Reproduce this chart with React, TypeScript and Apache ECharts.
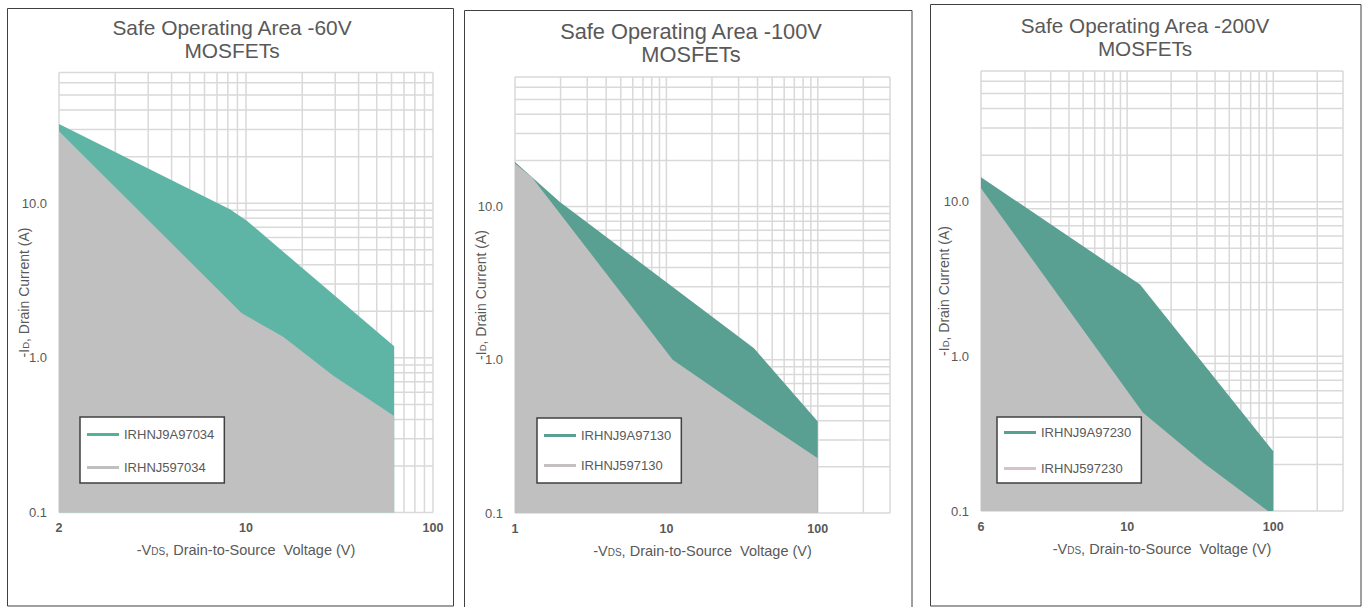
import React, { useEffect, useRef } from "react";
import * as echarts from "echarts";

// ---------- data ----------
const titles = ["Safe Operating Area -60V\nMOSFETs", "Safe Operating Area -100V\nMOSFETs", "Safe Operating Area -200V\nMOSFETs"];

// tick labels shown at the decade ticks (1, 10, 100) of each x axis
const xTickLabels60 = ["2", "10", "100"];
const xTickLabels100 = ["1", "10", "100"];
const xTickLabels200 = ["6", "10", "100"];
const yTickLabels = ["0.1", "1.0", "10.0"];

const xMax = [100, 300, 300];
const yMin = 0.1;
const yMax = 70;

// -60V
const names60 = ["IRHNJ9A97034", "IRHNJ597034"];
const greenV60 = [1, 8.2, 10.1, 62];
const greenI60 = [32.5, 9.15, 7.7, 1.19];
const grayV60 = [1, 9.5, 15.8, 29.2, 62];
const grayI60 = [29.2, 1.94, 1.37, 0.77, 0.42];

// -100V
const names100 = ["IRHNJ9A97130", "IRHNJ597130"];
const greenV100 = [1, 1.98, 37.9, 100];
const greenI100 = [19.5, 10.7, 1.19, 0.396];
const grayV100 = [1, 1.29, 11.0, 33.4, 100];
const grayI100 = [19, 15.6, 1.0, 0.47, 0.228];

// -200V
const names200 = ["IRHNJ9A97230", "IRHNJ597230"];
const greenV200 = [1, 12.25, 100];
const greenI200 = [14.4, 2.91, 0.243];
const grayV200 = [1, 12.8, 33.2, 92];
const grayI200 = [12.2, 0.434, 0.205, 0.1];

// log grid lines
const xGrid100 = [1, 2, 3, 4, 5, 6, 7, 8, 9, 10, 20, 30, 40, 50, 60, 70, 80, 90, 100];
const xGrid300 = [...xGrid100, 200, 300];
const yGrid = [0.1, 0.2, 0.3, 0.4, 0.5, 0.6, 0.7, 0.8, 0.9, 1, 2, 3, 4, 5, 6, 7, 8, 9, 10, 20, 30, 40, 50, 60, 70];

// ---------- styling / layout ----------
const FONT = '"Liberation Sans", Arial, sans-serif';
const TXT = "#595959";
const GRID_COLOR = "#d9d9d9";
const GRAY = "#c0c0c0";
const areaColors = ["#5eb5a5", "#5aa092", "#5aa092"];
const legendColors = [
  ["#52b39a", "#c0c0c0"],
  ["#5aa092", "#c4c0c2"],
  ["#5aa092", "#d6c2c7"],
];

const grids = [
  { left: 59, top: 72.5, width: 374, height: 440 },
  { left: 515, top: 77, width: 375, height: 436 },
  { left: 981, top: 71, width: 362, height: 440 },
];
const titlePos = [
  { cx: 232, top: 16, size: 20.9 },
  { cx: 691, top: 20, size: 21.8 },
  { cx: 1145, top: 13.5, size: 20.7 },
];
const legendPos = [
  { left: 80, top: 417, pad: [11, 10, 9, 7], gap: 20 },
  { left: 537, top: 418, pad: [11, 10, 11, 7], gap: 17 },
  { left: 997, top: 417, pad: [9, 10, 8, 7], gap: 23 },
];
const yNameGap = [28, 27, 30];
const xNameGap = [29.5, 30, 30];

const panels = [
  { names: names60, xl: xTickLabels60, gv: greenV60, gi: greenI60, rv: grayV60, ri: grayI60, xg: xGrid100 },
  { names: names100, xl: xTickLabels100, gv: greenV100, gi: greenI100, rv: grayV100, ri: grayI100, xg: xGrid300 },
  { names: names200, xl: xTickLabels200, gv: greenV200, gi: greenI200, rv: grayV200, ri: grayI200, xg: xGrid300 },
];

function decadeLabel(v: number, labels: string[], offset: number) {
  const l = Math.log10(v);
  const e = Math.round(l);
  if (Math.abs(l - e) > 1e-6) return "";
  const s = labels[e + offset];
  return s === undefined ? "" : s;
}

const xNameRich = {
  a: { fontFamily: FONT, fontSize: 14.5, color: TXT },
  s: { fontFamily: FONT, fontSize: 10, color: TXT, padding: [3, 0, 0, 0] },
};
const yNameRich = {
  a: { fontFamily: FONT, fontSize: 14, color: TXT },
  s: { fontFamily: FONT, fontSize: 9.5, color: TXT, padding: [3, 0, 0, 0] },
};

function buildOption() {
  const xAxis: any[] = [];
  const yAxis: any[] = [];
  const grid: any[] = [];
  const series: any[] = [];
  const legend: any[] = [];
  const title: any[] = [];

  panels.forEach((p, i) => {
    grid.push({ ...grids[i], containLabel: false });
    title.push({
      text: titles[i],
      left: titlePos[i].cx,
      top: titlePos[i].top,
      textAlign: "center",
      padding: 0,
      textStyle: { fontFamily: FONT, fontSize: titlePos[i].size, fontWeight: "normal", color: TXT, lineHeight: 23 },
    });
    xAxis.push({
      type: "log",
      logBase: 10,
      gridIndex: i,
      min: 1,
      max: xMax[i],
      axisLine: { show: false },
      axisTick: { show: false },
      splitLine: { show: false },
      axisLabel: {
        margin: 9,
        fontFamily: FONT,
        fontSize: 12.5,
        fontWeight: "bold",
        color: TXT,
        formatter: (v: number) => decadeLabel(v, p.xl, 0),
      },
      name: "{a|-V}{s|DS}{a|, Drain-to-Source  Voltage (V)}",
      nameLocation: "middle",
      nameGap: xNameGap[i],
      nameMoveOverlap: false,
      nameTextStyle: { rich: xNameRich },
    });
    yAxis.push({
      type: "log",
      logBase: 10,
      gridIndex: i,
      min: yMin,
      max: yMax,
      axisLine: { show: false },
      axisTick: { show: false },
      splitLine: { show: false },
      axisLabel: {
        margin: 12,
        fontFamily: FONT,
        fontSize: 13,
        color: TXT,
        formatter: (v: number) => decadeLabel(v, yTickLabels, 1),
      },
      name: "{a|-I}{s|D}{a|, Drain Current (A)}",
      nameLocation: "middle",
      nameRotate: 90,
      nameGap: yNameGap[i],
      nameMoveOverlap: false,
      nameTextStyle: { rich: yNameRich },
    });

    // grid lines through the axes' own scales
    const gridData: number[][] = [];
    p.xg.forEach((v) => gridData.push([v, 1, 0]));
    yGrid.forEach((v) => gridData.push([1, v, 1]));
    series.push({
      type: "custom",
      xAxisIndex: i,
      yAxisIndex: i,
      silent: true,
      z: 1,
      data: gridData,
      renderItem: (params: any, api: any) => {
        const cs = params.coordSys;
        const o = api.value(2);
        if (o === 0) {
          const x = api.coord([api.value(0), 1])[0];
          return {
            type: "line",
            shape: { x1: x, y1: cs.y, x2: x, y2: cs.y + cs.height },
            style: { stroke: GRID_COLOR, lineWidth: 1.5 },
          };
        }
        const y = api.coord([1, api.value(1)])[1];
        return {
          type: "line",
          shape: { x1: cs.x, y1: y, x2: cs.x + cs.width, y2: y },
          style: { stroke: GRID_COLOR, lineWidth: 1.5 },
        };
      },
    });

    series.push({
      name: p.names[0],
      type: "line",
      xAxisIndex: i,
      yAxisIndex: i,
      z: 2,
      symbol: "none",
      color: areaColors[i],
      lineStyle: { width: 0 },
      areaStyle: { color: areaColors[i], opacity: 1, origin: "start" },
      data: p.gv.map((v, k) => [v, p.gi[k]]),
    });
    series.push({
      name: p.names[1],
      type: "line",
      xAxisIndex: i,
      yAxisIndex: i,
      z: 3,
      symbol: "none",
      color: GRAY,
      lineStyle: { width: 0 },
      areaStyle: { color: GRAY, opacity: 1, origin: "start" },
      data: p.rv.map((v, k) => [v, p.ri[k]]),
    });

    legend.push({
      orient: "vertical",
      left: legendPos[i].left,
      top: legendPos[i].top,
      selectedMode: false,
      backgroundColor: "#ffffff",
      borderColor: "#404040",
      borderWidth: 1.5,
      borderRadius: 0,
      padding: legendPos[i].pad,
      itemGap: legendPos[i].gap,
      itemWidth: 32,
      itemHeight: 3,
      itemTextGap: 1,
      icon: "rect",
      textStyle: { fontFamily: FONT, fontSize: 13, color: TXT },
      data: [
        { name: p.names[0], itemStyle: { color: legendColors[i][0] } },
        { name: p.names[1], itemStyle: { color: legendColors[i][1] } },
      ],
      z: 10,
    });
  });

  const graphic = [
    { type: "rect", z: 100, shape: { x: 7.5, y: 8.5, width: 446, height: 597.5 }, style: { fill: "none", stroke: "#404040", lineWidth: 1 } },
    { type: "rect", z: 100, shape: { x: 464.5, y: 10.5, width: 447.5, height: 620 }, style: { fill: "none", stroke: "#404040", lineWidth: 1 } },
    { type: "rect", z: 100, shape: { x: 930.5, y: 4.5, width: 430.5, height: 601.5 }, style: { fill: "none", stroke: "#404040", lineWidth: 1 } },
  ];

  return {
    animation: false,
    backgroundColor: "#ffffff",
    title,
    grid,
    xAxis,
    yAxis,
    legend,
    series,
    graphic,
  };
}

export default function App() {
  const ref = useRef<HTMLDivElement>(null);
  useEffect(() => {
    if (!ref.current) return;
    const chart = echarts.init(ref.current, undefined, { renderer: "svg" });
    chart.setOption(buildOption() as any);
    return () => chart.dispose();
  }, []);
  return (
    <div
      ref={ref}
      style={{ position: "absolute", left: 0, top: 0, width: 1362, height: 607, background: "#fff" }}
    />
  );
}
